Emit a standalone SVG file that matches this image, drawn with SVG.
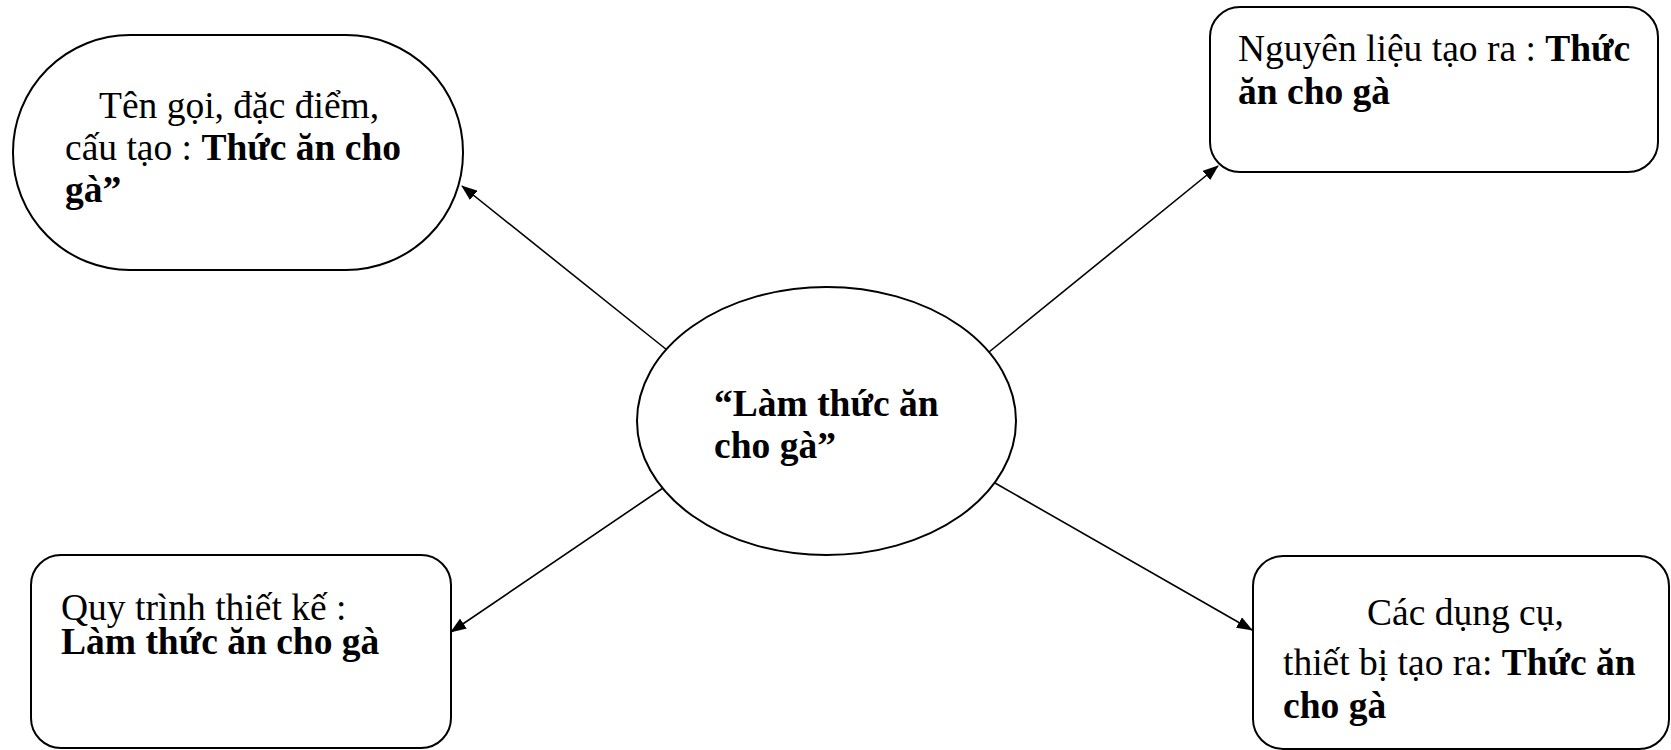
<svg xmlns="http://www.w3.org/2000/svg" width="1671" height="750" viewBox="0 0 1671 750">
<style>
.shape{fill:#fff;stroke:#000;stroke-width:2}
.t{font-family:"Liberation Serif","Times New Roman",serif;font-size:37.5px;fill:#000}
.b{font-weight:bold}
.c{stroke:#000;stroke-width:1.6;fill:none}
</style>
<defs>
<marker id="arr" markerWidth="16" markerHeight="12" refX="15" refY="6" orient="auto" markerUnits="userSpaceOnUse">
<path d="M0,0 L16,6 L0,12 Z" fill="#000"/>
</marker>
</defs>
<rect width="1671" height="750" fill="#fff"/>
<g id="connectors">
<line class="c" x1="667" y1="350" x2="462" y2="186" marker-end="url(#arr)"/>
<line class="c" x1="989" y1="352" x2="1218" y2="166" marker-end="url(#arr)"/>
<line class="c" x1="663" y1="488" x2="451" y2="632" marker-end="url(#arr)"/>
<line class="c" x1="995" y1="483" x2="1252" y2="630" marker-end="url(#arr)"/>
</g>
<g id="center">
<ellipse class="shape" cx="826.5" cy="421" rx="189.5" ry="134"/>
<text class="t b" x="714" y="416">“Làm thức ăn</text>
<text class="t b" x="714" y="458">cho gà”</text>
</g>
<g id="ten-goi">
<rect class="shape" x="13" y="35" width="450" height="235" rx="117" ry="117"/>
<text class="t" x="99" y="118">Tên gọi, đặc điểm,</text>
<text class="t" x="65" y="160">cấu tạo : <tspan class="b">Thức ăn cho</tspan></text>
<text class="t b" x="65" y="202">gà”</text>
</g>
<g id="nguyen-lieu">
<rect class="shape" x="1210" y="7" width="448" height="165" rx="30" ry="30"/>
<text class="t" x="1238" y="61">Nguyên liệu tạo ra : <tspan class="b">Thức</tspan></text>
<text class="t b" x="1238" y="104">ăn cho gà</text>
</g>
<g id="quy-trinh">
<rect class="shape" x="31" y="555" width="420" height="193" rx="30" ry="30"/>
<text class="t" x="61" y="620">Quy trình thiết kế :</text>
<text class="t b" x="61" y="654">Làm thức ăn cho gà</text>
</g>
<g id="dung-cu">
<rect class="shape" x="1253" y="556" width="416" height="193" rx="30" ry="30"/>
<text class="t" x="1367" y="625">Các dụng cụ,</text>
<text class="t" x="1283" y="675">thiết bị tạo ra: <tspan class="b">Thức ăn</tspan></text>
<text class="t b" x="1283" y="718">cho gà</text>
</g>
</svg>
